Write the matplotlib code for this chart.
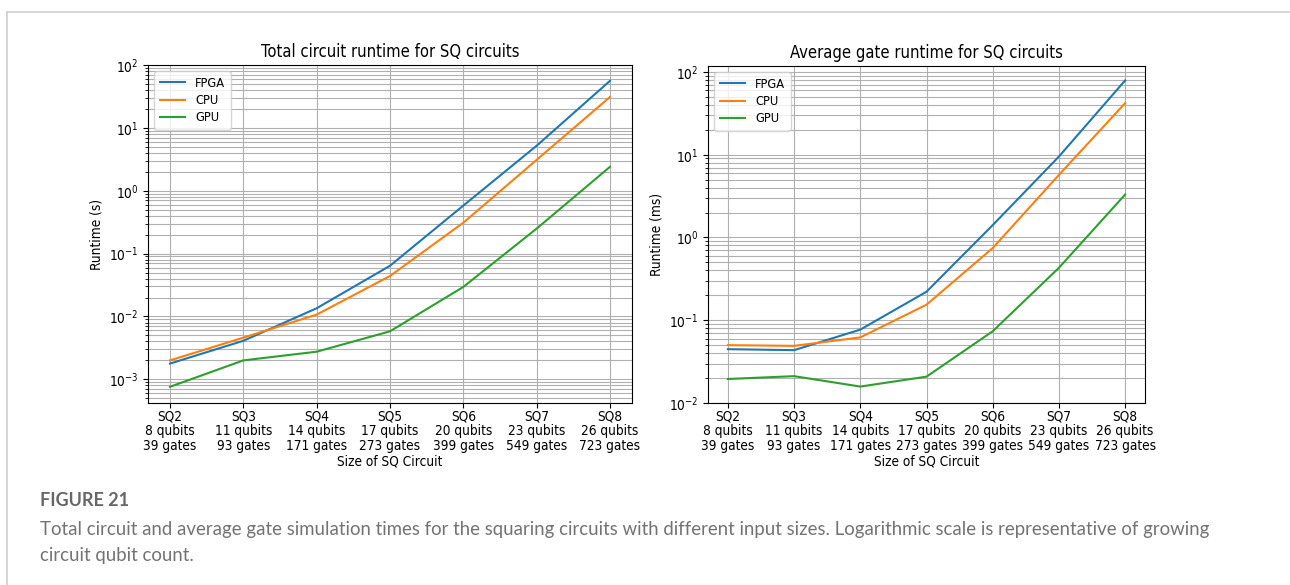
import numpy as np
import matplotlib
matplotlib.use("Agg")
import matplotlib.pyplot as plt
from matplotlib.lines import Line2D

circuits = ["SQ2", "SQ3", "SQ4", "SQ5", "SQ6", "SQ7", "SQ8"]
qubits = [8, 11, 14, 17, 20, 23, 26]
gates = [39, 93, 171, 273, 399, 549, 723]
tick_labels = [f"{c}\n{q} qubits\n{g} gates" for c, q, g in zip(circuits, qubits, gates)]

# total circuit runtime (s)
total_fpga = [1.78e-3, 4.1e-3, 1.35e-2, 0.064, 0.58, 5.2, 56]
total_cpu = [2.0e-3, 4.6e-3, 1.07e-2, 0.044, 0.31, 3.1, 31]
total_gpu = [7.6e-4, 2.0e-3, 2.75e-3, 5.8e-3, 0.0295, 0.25, 2.4]

# average gate runtime (ms)
gate_fpga = [0.0447, 0.0435, 0.077, 0.221, 1.41, 9.5, 79]
gate_cpu = [0.050, 0.049, 0.062, 0.154, 0.745, 5.7, 42]
gate_gpu = [0.0195, 0.0211, 0.0158, 0.0208, 0.0736, 0.43, 3.3]

plt.rcParams["font.stretch"] = "condensed"
fs = 9.8
fig = plt.figure(figsize=(12.9, 5.85), dpi=100)

# page frame lines
fig.add_artist(Line2D([7 / 1290, 1], [1 - 12 / 585, 1 - 12 / 585], color="#d0d0d0", lw=1.2))
fig.add_artist(Line2D([7 / 1290, 7 / 1290], [0, 1 - 12 / 585], color="#d0d0d0", lw=1.2))

ax1 = fig.add_axes([148 / 1290, 1 - 403 / 585, 484 / 1290, 338 / 585])
ax2 = fig.add_axes([708 / 1290, 1 - 403 / 585, 437 / 1290, 337 / 585])

x = np.arange(len(circuits))
panels = [
    (ax1, total_fpga, total_cpu, total_gpu, "Total circuit runtime for SQ circuits", "Runtime (s)", (4.2e-4, 100)),
    (ax2, gate_fpga, gate_cpu, gate_gpu, "Average gate runtime for SQ circuits", "Runtime (ms)", (1e-2, 118)),
]
for ax, f, c, g, title, ylab, ylim in panels:
    ax.plot(x, f, label="FPGA", color="#1f77b4", lw=1.5)
    ax.plot(x, c, label="CPU", color="#ff7f0e", lw=1.5)
    ax.plot(x, g, label="GPU", color="#2ca02c", lw=1.5)
    ax.set_yscale("log")
    ax.set_ylim(*ylim)
    ax.set_xticks(x)
    ax.set_xticklabels(tick_labels, fontsize=fs, linespacing=1.05)
    ax.tick_params(axis="x", pad=1.5)
    ax.tick_params(axis="y", labelsize=fs)
    ax.grid(True, which="major", color="#b0b0b0", lw=0.8)
    ax.grid(True, which="minor", axis="y", color="#b0b0b0", lw=0.8)
    ax.set_title(title, fontsize=11.9)
    ax.set_xlabel("Size of SQ Circuit", fontsize=fs, labelpad=1)
    ax.set_ylabel(ylab, fontsize=fs)
    ax.legend(loc="upper left", fontsize=9.2, labelspacing=0.35)

fig.text(40 / 1290, 1 - 500 / 585, "FIGURE 21", fontsize=13, fontweight="bold",
         color="#666666", family="Lato", stretch="normal", va="center")
fig.text(40 / 1290, 1 - 530 / 585,
         "Total circuit and average gate simulation times for the squaring circuits with different input sizes. "
         "Logarithmic scale is representative of growing",
         fontsize=13.45, color="#737373", family="Lato", stretch="normal", va="center")
fig.text(40 / 1290, 1 - 555 / 585, "circuit qubit count.",
         fontsize=13.45, color="#737373", family="Lato", stretch="normal", va="center")

fig.savefig("out.png", dpi=100)
